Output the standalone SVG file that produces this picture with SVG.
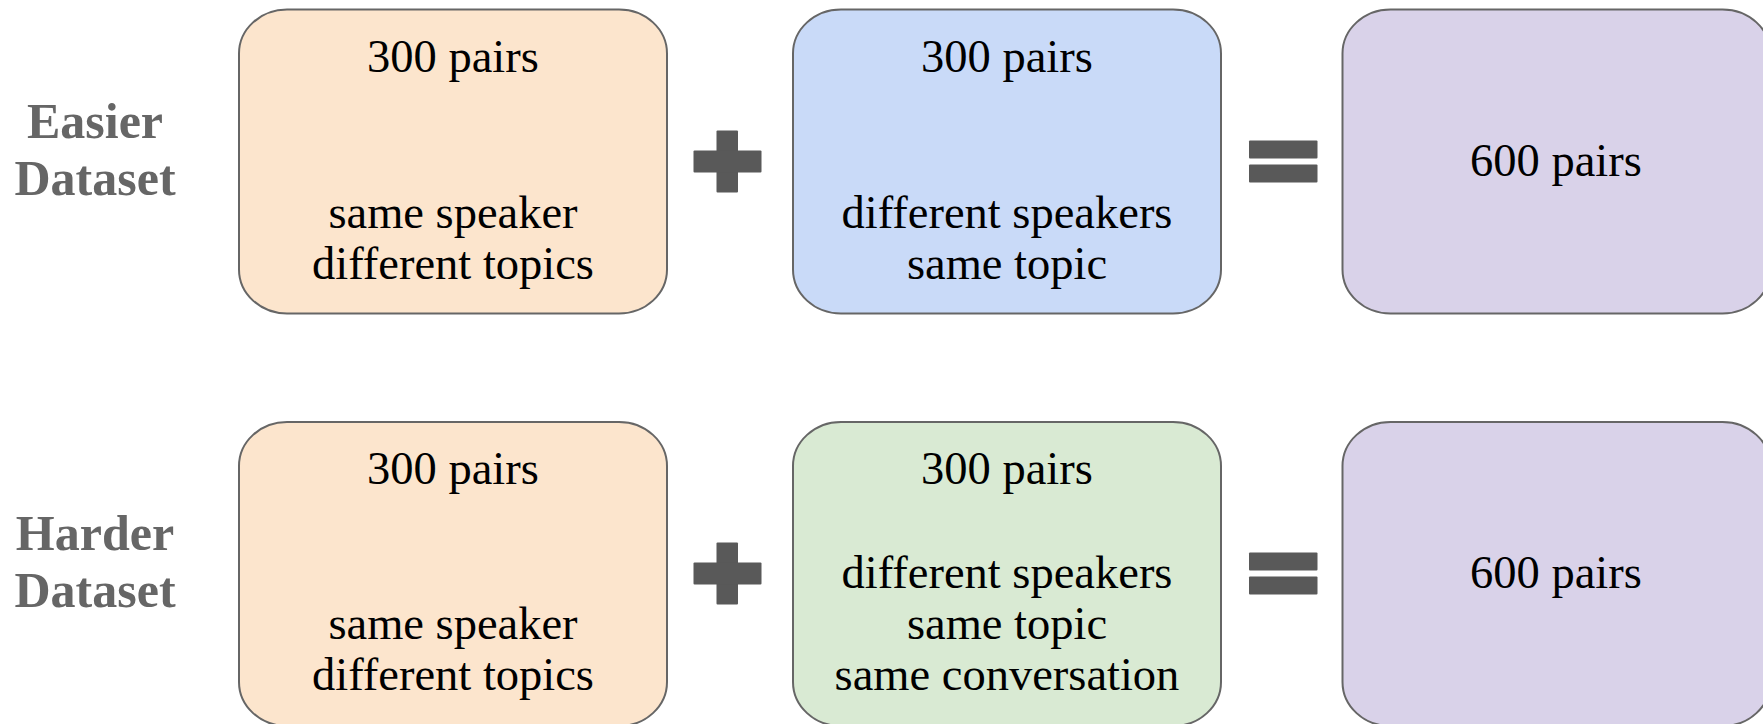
<svg xmlns="http://www.w3.org/2000/svg" width="1763" height="724" viewBox="0 0 1763 724">
<style>
.box{stroke:#666666;stroke-width:2}
.orange{fill:#fce5cd}.blue{fill:#c9daf8}.green{fill:#d9ead3}.purple{fill:#d9d2e9}
.t{font-family:"Liberation Serif",serif;font-size:46.5px;fill:#000;text-anchor:middle}
.lbl{font-family:"Liberation Serif",serif;font-size:50px;font-weight:bold;fill:#666666;text-anchor:middle}
.op{fill:#595959}
</style>
<rect width="1763" height="724" fill="#ffffff"/>
<g id="label-easier"><text class="lbl" x="95" y="138">Easier</text><text class="lbl" x="95" y="195">Dataset</text></g>
<g id="label-harder"><text class="lbl" x="95" y="550">Harder</text><text class="lbl" x="95" y="607">Dataset</text></g>
<g id="e-box1"><rect class="box orange" x="239" y="9.5" width="428" height="304" rx="48" ry="44"/>
<text class="t" x="453" y="72">300 pairs</text><text class="t" x="453" y="228">same speaker</text><text class="t" x="453" y="279">different topics</text></g>
<g id="e-box2"><rect class="box blue" x="793" y="9.5" width="428" height="304" rx="48" ry="44"/>
<text class="t" x="1007" y="72">300 pairs</text><text class="t" x="1007" y="228">different speakers</text><text class="t" x="1007" y="279">same topic</text></g>
<g id="e-box3"><rect class="box purple" x="1342.5" y="9.5" width="428" height="304" rx="48" ry="44"/>
<text class="t" x="1556" y="176">600 pairs</text></g>
<g id="h-box1"><rect class="box orange" x="239" y="422" width="428" height="304" rx="48" ry="44"/>
<text class="t" x="453" y="484">300 pairs</text><text class="t" x="453" y="639">same speaker</text><text class="t" x="453" y="690">different topics</text></g>
<g id="h-box2"><rect class="box green" x="793" y="422" width="428" height="304" rx="48" ry="44"/>
<text class="t" x="1007" y="484">300 pairs</text><text class="t" x="1007" y="588">different speakers</text><text class="t" x="1007" y="639">same topic</text><text class="t" x="1007" y="690">same conversation</text></g>
<g id="h-box3"><rect class="box purple" x="1342.5" y="422" width="428" height="304" rx="48" ry="44"/>
<text class="t" x="1556" y="588">600 pairs</text></g>
<g id="connectors">
<g id="plus1" class="op"><rect x="716.5" y="130.5" width="21.5" height="62" rx="1"/><rect x="693.5" y="150.5" width="68" height="22" rx="1"/></g>
<g id="eq1" class="op"><rect x="1249" y="140.5" width="68.5" height="18" rx="1"/><rect x="1249" y="164.5" width="68.5" height="18" rx="1"/></g>
<g id="plus2" class="op"><rect x="716.5" y="542.5" width="21.5" height="62" rx="1"/><rect x="693.5" y="562.5" width="68" height="22" rx="1"/></g>
<g id="eq2" class="op"><rect x="1249" y="552.5" width="68.5" height="18" rx="1"/><rect x="1249" y="576.5" width="68.5" height="18" rx="1"/></g>
</g>
</svg>
